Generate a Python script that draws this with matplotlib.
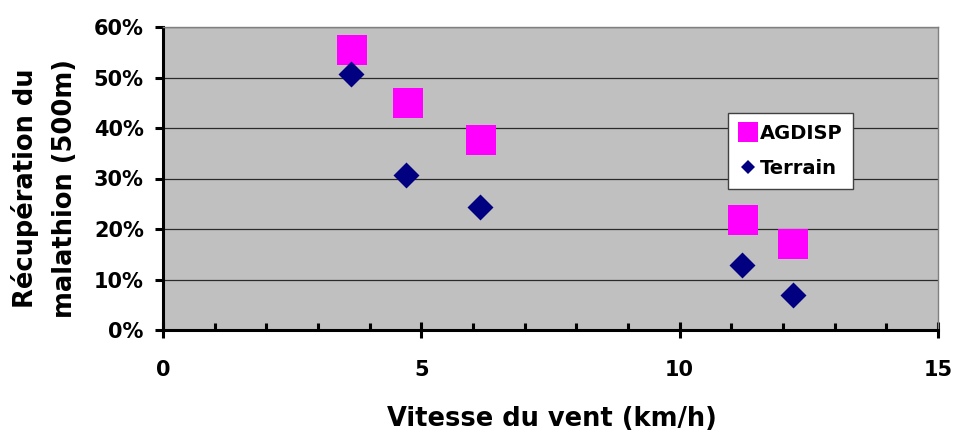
import numpy as np
import matplotlib.pyplot as plt
from matplotlib.lines import Line2D
from matplotlib.ticker import MultipleLocator, PercentFormatter

plt.rcParams['font.family'] = ['DejaVu Sans']
plt.rcParams['font.weight'] = 'bold'

# ── data ──────────────────────────────────────────────────────────────────────
agdisp_x = [3.65, 4.74, 6.15, 11.22, 12.2]
agdisp_y = [55.4, 45.0, 37.6, 21.8, 17.0]
terrain_x = [3.64, 4.70, 6.13, 11.2, 12.19]
terrain_y = [50.7, 30.7, 24.4, 12.9, 6.9]

MAGENTA = '#ff00ff'
NAVY = '#000080'

fig = plt.figure(figsize=(9.54, 4.38), dpi=100)
ax = fig.add_axes([163 / 954, 1 - 330 / 438, 775 / 954, 303 / 438])
ax.set_facecolor('#c0c0c0')

ax.scatter(agdisp_x, agdisp_y, marker='s', s=466, color=MAGENTA,
           linewidths=0, zorder=3)
ax.scatter(terrain_x, terrain_y, marker='D', s=175, color=NAVY,
           linewidths=0, zorder=4)

ax.set_xlim(0, 15)
ax.set_ylim(0, 60)
ax.xaxis.set_major_locator(MultipleLocator(5))
ax.xaxis.set_minor_locator(MultipleLocator(1))
ax.yaxis.set_major_locator(MultipleLocator(10))
ax.yaxis.set_major_formatter(PercentFormatter(decimals=0))
ax.grid(axis='y', color='#2a2a2a', lw=0.9, zorder=1)
ax.set_axisbelow(True)

for s in ['top', 'right']:
    ax.spines[s].set_color('#808080')
    ax.spines[s].set_linewidth(1.0)
for s in ['left', 'bottom']:
    ax.spines[s].set_color('black')
    ax.spines[s].set_linewidth(2.2)

ax.tick_params(axis='x', which='major', direction='inout', length=11, width=2.2,
               labelsize=15, pad=16)
ax.tick_params(axis='x', which='minor', direction='in', length=5, width=2.2)
ax.tick_params(axis='y', which='major', direction='out', length=5.8, width=2.2,
               labelsize=15, pad=8)
for lbl in ax.get_xticklabels() + ax.get_yticklabels():
    lbl.set_fontweight('bold')

fig.text(552 / 954, 1 - 419 / 438, 'Vitesse du vent (km/h)', fontsize=18.5,
         fontweight='bold', ha='center', va='center')
fig.text(45 / 954, 1 - 188 / 438, 'Récupération du\nmalathion (500m)',
         fontsize=18.5, fontweight='bold', ha='center', va='center',
         rotation=90, linespacing=1.65, multialignment='center')

handles = [
    Line2D([], [], ls='none', marker='s', ms=14.4, color=MAGENTA, mew=0),
    Line2D([], [], ls='none', marker='D', ms=7.6, color=NAVY, mew=0),
]
leg = ax.legend(handles, ['AGDISP', 'Terrain'], loc='upper left',
                bbox_to_anchor=((728 - 163) / 775, (330 - 113) / 303),
                borderaxespad=0, frameon=True, fancybox=False,
                edgecolor='#404040', framealpha=1,
                prop={'size': 14, 'weight': 'bold'}, handletextpad=0.1,
                borderpad=0.55, labelspacing=0.85, handlelength=1.0)
leg.get_frame().set_linewidth(1.0)

fig.savefig('out.png', dpi=100)
